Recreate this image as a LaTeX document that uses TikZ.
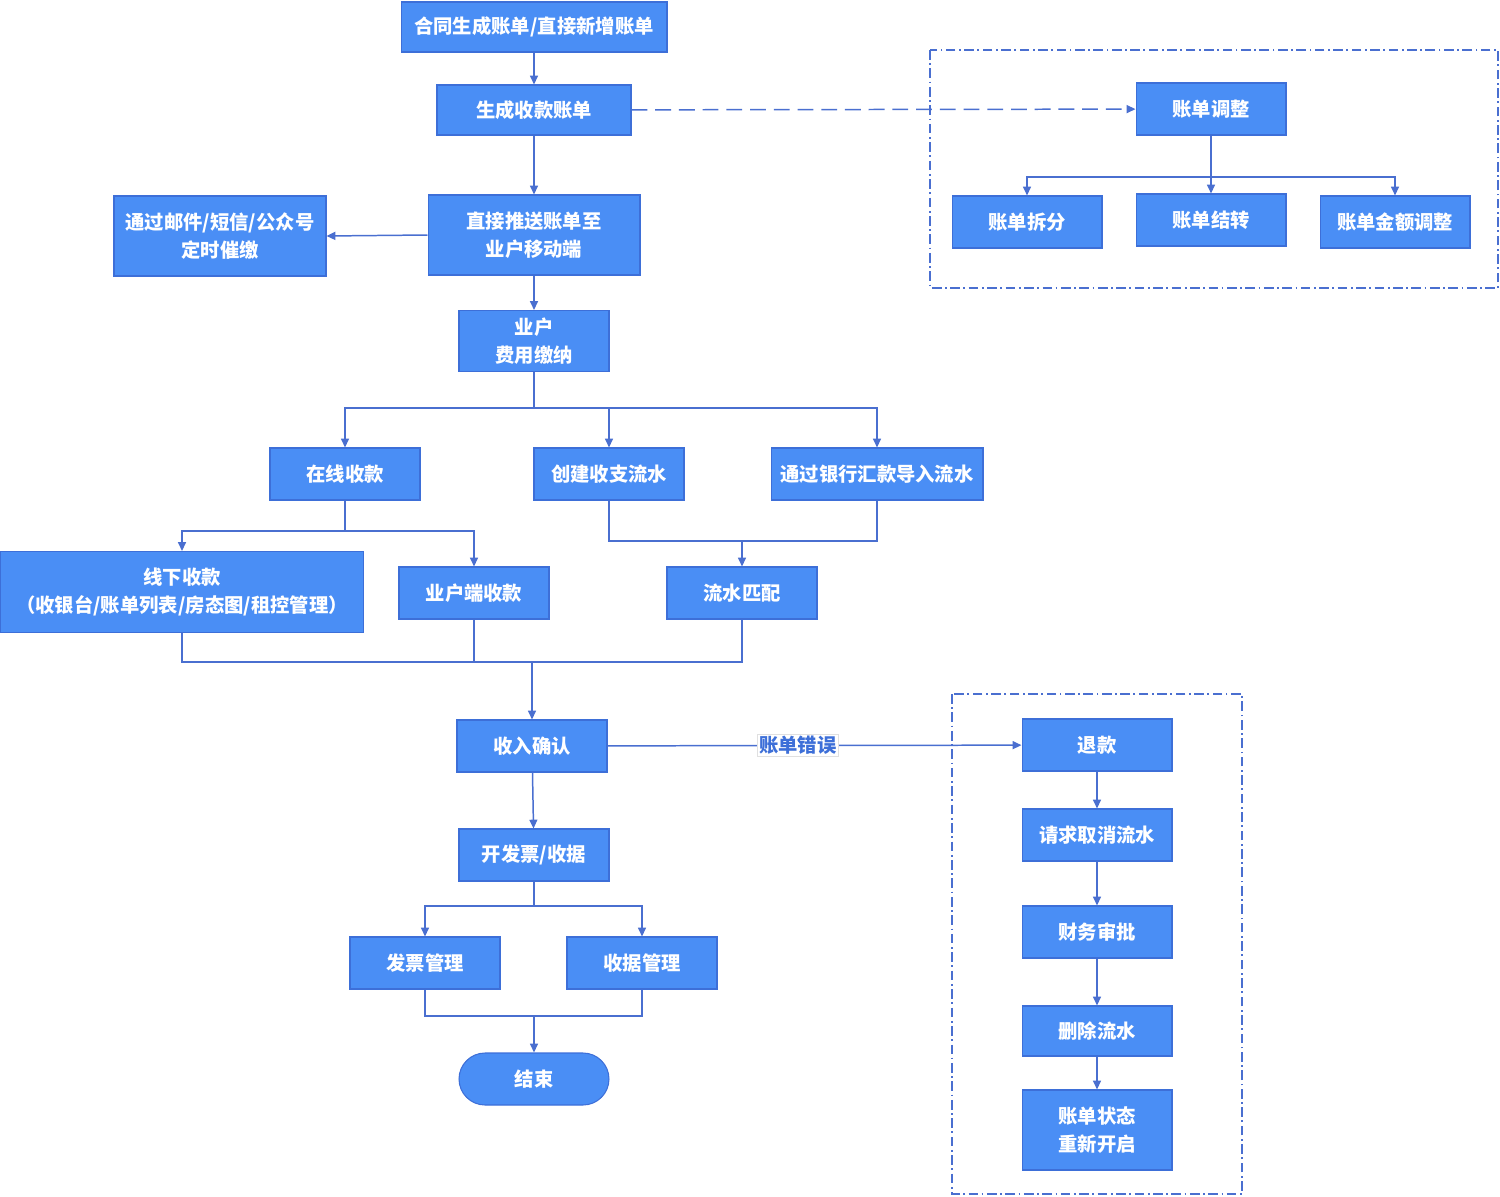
\documentclass[tikz,border=0pt]{standalone}
\usepackage{fontspec}
\setmainfont{Noto Sans CJK SC}
\usetikzlibrary{arrows.meta, calc}
\definecolor{boxfill}{HTML}{4A8EF5}
\definecolor{boxline}{HTML}{3D6FD8}
\definecolor{linkc}{HTML}{4A6FD0}

\begin{document}
\begin{tikzpicture}
        [
         x=0.02cm, y=-0.02cm,
         box/.style={draw=boxline, fill=boxfill, text=white, line width=0.6pt,
                     font=\fontsize{11pt}{16pt}\selectfont\bfseries, align=center,
                     minimum width=3cm, minimum height=1.04cm, inner sep=0pt},
         link/.style={draw=linkc, line width=0.85pt, -{Triangle[width=4.5pt,length=5pt]}},
         plain/.style={draw=linkc, line width=0.85pt},
         group/.style={draw=linkc, line width=0.85pt, dash pattern=on 5.5pt off 2pt on 1pt off 2pt},
         tag/.style={fill=white, draw=black!12, text=boxline, inner sep=1pt,
                     font=\fontsize{11pt}{13pt}\selectfont\bfseries}
        ]
         \useasboundingbox (0,0) rectangle (1500,1196);

         % 主流程
         \node[box, minimum width=5.32cm, minimum height=1cm] (hetong) at (534,27) {合同生成账单/直接新增账单};
         \node[box, minimum width=3.88cm, minimum height=1cm] (shengcheng) at (534,110) {生成收款账单};
         \node[box, minimum width=4.24cm, minimum height=1.6cm] (tuisong) at (534,235) {直接推送账单至\\业户移动端};
         \node[box, minimum width=4.24cm, minimum height=1.6cm] (cuijiao) at (220,236) {通过邮件/短信/公众号\\定时催缴};
         \node[box, minimum height=1.22cm] (jiaona) at (534,341) {业户\\费用缴纳};
         \node[box] (zaixian) at (345,474) {在线收款};
         \node[box] (chuangjian) at (609,474) {创建收支流水};
         \node[box, minimum width=4.24cm] (yinhang) at (877,474) {通过银行汇款导入流水};
         \node[box, minimum width=7.26cm, minimum height=1.62cm] (xianxia) at (182,592) {线下收款\\（收银台/账单列表/房态图/租控管理）};
         \node[box] (yezhuduan) at (474,593) {业户端收款};
         \node[box] (pipei) at (742,593) {流水匹配};
         \node[box] (queren) at (532,746) {收入确认};
         \node[box] (fapiao) at (534,855) {开发票/收据};
         \node[box] (fpgl) at (425,963) {发票管理};
         \node[box] (sjgl) at (642,963) {收据管理};
         \node[box, rounded corners=0.52cm] (jieshu) at (534,1079) {结束};

         % 账单调整
         \draw[group] (930,50) rectangle (1498,288);
         \node[box] (tiaozheng) at (1211,109) {账单调整};
         \node[box] (chaifen) at (1027,222) {账单拆分};
         \node[box] (jiezhuan) at (1211,220) {账单结转};
         \node[box] (jine) at (1395,222) {账单金额调整};

         % 账单错误
         \draw[group] (952,694) rectangle (1242,1194);
         \node[box] (tuikuan) at (1097,745) {退款};
         \node[box] (quxiao) at (1097,835) {请求取消流水};
         \node[box] (shenpi) at (1097,932) {财务审批};
         \node[box, minimum height=1cm] (shanchu) at (1097,1031) {删除流水};
         \node[box, minimum height=1.6cm] (chongqi) at (1097,1130) {账单状态\\重新开启};

         % 分叉与汇合点
         \coordinate (fen1) at (534,408);
         \coordinate (fen2) at (345,531);
         \coordinate (he1) at (742,541);
         \coordinate (he2) at (532,662);
         \coordinate (fen3) at (534,906);
         \coordinate (he3) at (534,1016);
         \coordinate (fen4) at (1211,177);

         \draw[link] (hetong) -- (shengcheng);
         \draw[link] (shengcheng) -- (tuisong);
         \draw[link] (tuisong.west) -- (cuijiao.east);
         \draw[link] (tuisong) -- (jiaona);
         \draw[plain] (jiaona) -- (fen1);
         \draw[link] (fen1) -| (zaixian);
         \draw[link] (fen1) -| (chuangjian);
         \draw[link] (fen1) -| (yinhang);
         \draw[plain] (zaixian) -- (fen2);
         \draw[link] (fen2) -| (xianxia);
         \draw[link] (fen2) -| (yezhuduan);
         \draw[plain] (chuangjian.south) |- (he1) -| (yinhang.south);
         \draw[link] (he1) -- (pipei);
         \draw[plain] (xianxia.south) |- (he2) -| (pipei.south);
         \draw[plain] (yezhuduan.south) -- (yezhuduan.south |- he2);
         \draw[link] (he2) -- (queren);
         \draw[link] (queren) -- (fapiao);
         \draw[plain] (fapiao) -- (fen3);
         \draw[link] (fen3) -| (fpgl);
         \draw[link] (fen3) -| (sjgl);
         \draw[plain] (fpgl.south) |- (he3) -| (sjgl.south);
         \draw[link] (he3) -- (jieshu);

         \draw[link, dash pattern=on 9pt off 4.5pt] (shengcheng) -- (tiaozheng);
         \draw[plain] (tiaozheng) -- (fen4);
         \draw[link] (fen4) -| (chaifen);
         \draw[link] (fen4) -- (jiezhuan);
         \draw[link] (fen4) -| (jine);

         \draw[link] (queren) -- node[tag, pos=0.46] (cuowu) {账单错误} (tuikuan);
         \draw[link] (tuikuan) -- (quxiao);
         \draw[link] (quxiao) -- (shenpi);
         \draw[link] (shenpi) -- (shanchu);
         \draw[link] (shanchu) -- (chongqi);
\end{tikzpicture}
\end{document}
